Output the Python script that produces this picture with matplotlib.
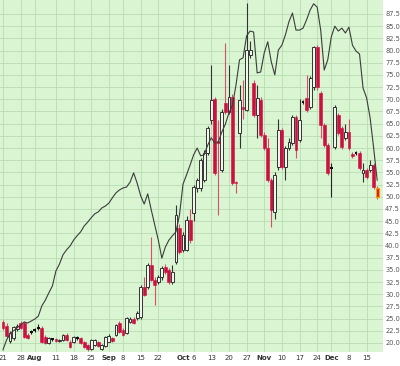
import matplotlib
matplotlib.use('Agg')
import matplotlib.pyplot as plt
import numpy as np
import pandas as pd

# daily candles, Jul 21 - Dec 18 2008
opens = [24.3, 23.5, 20.5, 21.0, 22.8, 24.0, 24.0, 21.6, 22.2, 22.6,
         23.0, 23.1, 21.2, 20.0, 20.7, 20.8, 20.5, 20.6, 21.6, 20.2,
         20.2, 21.0, 21.0, 20.2, 19.6, 18.8, 19.6, 20.2, 18.8, 19.4,
         20.3, 21.0, 21.6, 24.0, 22.7, 22.1, 24.3, 25.0, 25.1, 25.3,
         31.5, 31.5, 36.0, 33.0, 32.5, 33.5, 35.6, 35.0, 32.5, 36.6,
         43.6, 39.1, 39.1, 45.2, 46.7, 51.8, 51.8, 53.4, 59.0, 65.8,
         70.1, 61.5, 55.5, 69.2, 67.4, 70.5, 53.0, 63.1, 68.5, 67.8,
         79.1, 73.3, 66.8, 69.9, 62.7, 60.0, 53.4, 46.9, 56.1, 63.7,
         56.1, 60.0, 61.0, 66.4, 61.6, 69.4, 70.3, 68.4, 72.5, 80.7,
         71.3, 64.7, 60.6, 56.0, 60.2, 66.8, 64.1, 62.1, 63.3, 58.8,
         58.9, 58.9, 54.9, 55.5, 55.5, 56.5, 51.8]
highs = [24.8, 24.0, 22.4, 23.5, 23.8, 24.5, 24.6, 22.0, 22.6, 23.0,
         23.8, 23.5, 21.6, 21.2, 21.0, 21.0, 20.9, 21.8, 22.0, 20.6,
         21.4, 21.5, 21.3, 20.4, 19.8, 20.8, 20.9, 20.4, 19.8, 21.4,
         21.8, 21.3, 23.9, 24.6, 23.0, 25.4, 25.3, 25.4, 26.6, 31.8,
         33.5, 36.5, 41.7, 33.5, 34.0, 35.8, 36.2, 35.4, 36.0, 48.3,
         44.5, 42.8, 46.0, 47.5, 52.5, 53.8, 58.0, 59.5, 64.6, 77.0,
         70.5, 65.8, 68.0, 81.5, 77.0, 71.0, 53.3, 72.9, 74.0, 89.7,
         82.0, 74.0, 73.0, 70.5, 63.2, 62.0, 53.8, 55.0, 66.0, 64.2,
         60.4, 62.0, 66.8, 66.8, 70.0, 69.8, 75.0, 74.8, 81.0, 81.2,
         71.7, 65.2, 61.0, 57.0, 68.8, 67.2, 64.5, 65.0, 66.0, 59.2,
         59.3, 59.3, 57.0, 56.0, 57.5, 57.0, 52.2]
lows = [22.6, 21.0, 20.0, 20.6, 22.4, 22.8, 21.0, 20.8, 21.9, 22.3,
        22.6, 20.0, 19.8, 19.8, 20.5, 20.3, 20.3, 20.4, 20.4, 19.0,
        20.0, 20.7, 19.8, 19.0, 18.4, 18.6, 19.4, 19.2, 18.5, 19.2,
        20.1, 20.2, 21.4, 22.0, 21.4, 21.8, 24.0, 23.8, 24.8, 25.0,
        29.6, 31.0, 32.8, 27.8, 32.0, 33.0, 34.2, 32.2, 32.2, 36.3,
        38.3, 38.6, 38.8, 40.6, 45.0, 51.0, 51.2, 53.0, 58.5, 65.0,
        54.5, 46.3, 55.0, 67.0, 67.0, 52.5, 50.8, 60.1, 66.0, 67.5,
        78.5, 66.4, 62.0, 62.3, 59.6, 53.0, 43.8, 45.5, 55.5, 55.6,
        53.4, 59.5, 60.6, 58.0, 61.2, 69.0, 67.4, 68.0, 72.0, 72.0,
        62.0, 60.2, 54.5, 50.0, 59.8, 62.7, 59.8, 61.7, 59.6, 58.0,
        58.5, 55.5, 53.0, 53.7, 55.0, 51.6, 49.6]
closes = [23.0, 21.5, 22.0, 23.3, 23.5, 23.0, 21.2, 21.0, 22.3, 22.7,
          23.1, 20.2, 20.0, 21.0, 20.8, 20.5, 20.7, 21.6, 20.6, 19.2,
          21.2, 21.0, 20.0, 19.2, 18.7, 20.6, 20.6, 19.4, 19.6, 21.2,
          21.5, 20.4, 23.6, 22.3, 21.6, 25.1, 25.0, 24.0, 26.2, 31.5,
          29.9, 36.0, 33.0, 31.9, 33.5, 35.4, 34.6, 32.5, 34.6, 46.3,
          38.7, 42.2, 45.2, 41.1, 52.0, 53.4, 57.5, 59.0, 64.1, 69.9,
          54.9, 61.0, 67.4, 67.4, 70.5, 52.8, 52.8, 69.9, 68.0, 80.1,
          80.1, 66.8, 70.3, 62.7, 60.0, 53.4, 47.3, 54.5, 63.7, 56.1,
          60.0, 61.2, 66.4, 59.6, 65.8, 69.4, 67.8, 74.4, 80.7, 72.5,
          64.7, 60.6, 54.9, 55.9, 68.4, 63.1, 60.2, 63.3, 60.0, 58.4,
          58.9, 55.9, 55.5, 54.1, 56.5, 52.0, 50.0]

# comparison line drawn over the candles
lineValues = [18.6, 20.6, 21.9, 22.5, 23.1, 23.7, 24.3, 24.1, 24.5, 24.9,
              25.5, 27.6, 28.8, 30.3, 31.7, 34.8, 36.2, 38.1, 39.1, 39.9,
              41.1, 42.0, 42.8, 44.0, 44.8, 45.7, 46.5, 46.9, 47.7, 48.1,
              48.7, 49.8, 50.8, 51.4, 51.8, 52.0, 53.0, 54.9, 52.8, 50.2,
              48.5, 50.6, 47.3, 44.2, 41.1, 37.4, 39.7, 41.1, 42.0, 42.8,
              46.3, 52.6, 54.5, 56.5, 58.6, 60.0, 58.4, 58.6, 60.6, 62.1,
              61.0, 61.2, 63.3, 64.9, 67.2, 68.8, 72.9, 78.1, 78.5, 83.0,
              84.0, 83.8, 75.4, 75.6, 79.5, 81.8, 77.7, 75.0, 80.1, 81.1,
              83.2, 85.9, 87.7, 84.2, 84.2, 84.6, 86.3, 88.3, 89.6, 88.9,
              84.2, 76.0, 78.1, 82.8, 85.0, 84.0, 84.6, 83.6, 84.8, 81.1,
              79.9, 79.3, 72.3, 70.3, 66.2, 60.0, 53.4]

holidays = ['2008-09-01', '2008-11-27']
tickDates = ['2008-07-21', '2008-07-28', '2008-08-01', '2008-08-11', '2008-08-18',
             '2008-08-25', '2008-09-02', '2008-09-08', '2008-09-15', '2008-09-22',
             '2008-10-01', '2008-10-06', '2008-10-13', '2008-10-20', '2008-10-27',
             '2008-11-03', '2008-11-10', '2008-11-17', '2008-11-24', '2008-12-01',
             '2008-12-08', '2008-12-15']
tickLabels = ['21', '28', 'Aug', '11', '18', '25', 'Sep', '8', '15', '22',
              'Oct', '6', '13', '20', '27', 'Nov', '10', '17', '24', 'Dec', '8', '15']
monthLabels = ['Aug', 'Sep', 'Oct', 'Nov', 'Dec']

RED = '#cc1040'
UP_EDGE = '#333333'
BG = '#d9f5d2'
GRID = '#b8ddb1'

days = pd.bdate_range('2008-07-21', '2008-12-18')
days = days[~days.isin(pd.to_datetime(holidays))]
dayIndex = {d: i for i, d in enumerate(days)}
x = np.arange(len(days))

fig = plt.figure(figsize=(4.0, 3.66), dpi=100)
ax = fig.add_axes([0.0, 0.0383, 0.9575, 0.9617])
ax.set_facecolor(BG)
for s in ax.spines.values():
    s.set_visible(False)

o = np.array(opens)
h = np.array(highs)
l = np.array(lows)
c = np.array(closes)
width = 0.8
last = len(x) - 1

for i in range(len(x)):
    diff = c[i] - o[i]
    if abs(diff) < 0.15:
        # doji: small dark dash
        ax.vlines(x[i], l[i], h[i], color='#222222', lw=0.8, zorder=3)
        ax.bar(x[i], 0.4, width, bottom=c[i] - 0.2, color='#111111', zorder=4)
    elif diff > 0:
        ax.vlines(x[i], l[i], h[i], color=UP_EDGE, lw=0.8, zorder=3)
        ax.bar(x[i], diff, width, bottom=o[i], facecolor='#eef9ea',
               edgecolor=UP_EDGE, lw=0.7, zorder=4)
    else:
        ax.vlines(x[i], l[i], h[i], color='#d5506a', lw=0.8, zorder=3)
        ax.bar(x[i], -diff, width, bottom=c[i], facecolor=RED,
               edgecolor='#ff9900' if i == last else RED,
               lw=0.9 if i == last else 0.4, zorder=4)

ax.plot(x, lineValues, color='#3c3c3c', lw=0.8, zorder=5)

tickPos = [dayIndex[pd.Timestamp(d)] for d in tickDates]
ax.set_xticks(tickPos)
ax.set_xticklabels(tickLabels)
for t in ax.get_xticklabels():
    t.set_fontsize(5)
    t.set_color('#333333')
    if t.get_text() in monthLabels:
        t.set_fontweight('bold')

yTicks = np.arange(20.0, 88.0, 2.5)
ax.set_yticks(yTicks)
ax.set_yticklabels(['%.1f' % v for v in yTicks])
ax.yaxis.tick_right()
ax.tick_params(axis='y', length=0, pad=1.5, labelsize=4.8, labelcolor='#555555')
ax.tick_params(axis='x', length=0, pad=2)

ax.grid(True, color=GRID, lw=0.6, zorder=0)
ax.set_axisbelow(True)
ax.set_xlim(-0.85, 107.65)
ax.set_ylim(18.15, 90.37)

fig.savefig('out.png', dpi=100, facecolor='white')
